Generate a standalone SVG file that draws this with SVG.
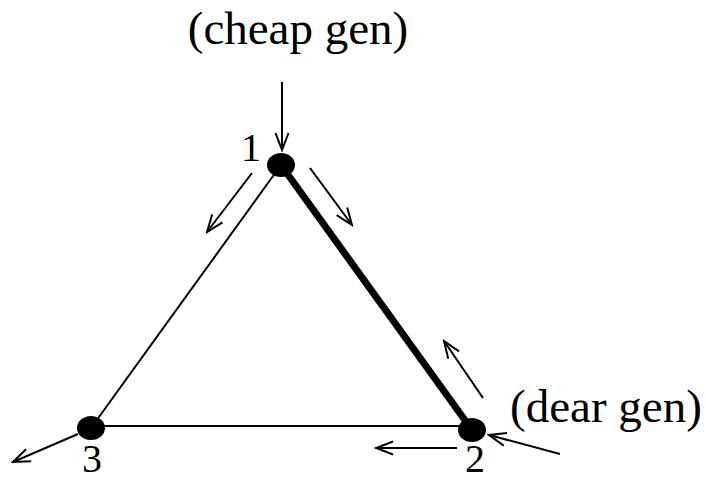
<svg xmlns="http://www.w3.org/2000/svg" width="706" height="481" viewBox="0 0 706 481">
<style>
.t{font-family:"Liberation Serif","Times New Roman",serif;fill:#000}
.lbl{font-size:47px}
.num{font-size:40px;text-anchor:middle}
.edge{stroke:#000;stroke-width:2;fill:none}
.thick{stroke:#000;stroke-width:7;fill:none}
.arr{stroke:#000;stroke-width:2;fill:none;marker-end:url(#ah)}
.node{fill:#000}
</style>
<defs>
<marker id="ah" viewBox="-19 -8 21 16" markerWidth="21" markerHeight="16" refX="0" refY="0" orient="auto" markerUnits="userSpaceOnUse">
<path d="M-17,-6.5 L0,0 L-17,6.5" stroke="#000" stroke-width="2" fill="none"/>
</marker>
</defs>
<g id="connectors">
<line class="edge" x1="281" y1="165" x2="91" y2="428"/>
<line class="thick" x1="281" y1="165" x2="472" y2="430"/>
<line class="edge" x1="91" y1="426" x2="472" y2="426"/>
<line class="arr" x1="282" y1="82" x2="282" y2="150"/>
<line class="arr" x1="252" y1="173" x2="207" y2="232"/>
<line class="arr" x1="310" y1="168" x2="352" y2="225"/>
<line class="arr" x1="483" y1="398" x2="444" y2="341"/>
<line class="arr" x1="560" y1="454" x2="489" y2="435"/>
<line class="arr" x1="457" y1="448" x2="376" y2="448"/>
<line class="arr" x1="78" y1="434" x2="13" y2="462"/>
</g>
<g id="node1">
<ellipse class="node" cx="281" cy="165" rx="14" ry="12"/>
<text class="t num" x="251" y="161">1</text>
</g>
<g id="node2">
<ellipse class="node" cx="472" cy="430" rx="14" ry="12"/>
<text class="t num" x="475" y="472">2</text>
</g>
<g id="node3">
<ellipse class="node" cx="91" cy="428" rx="14" ry="12"/>
<text class="t num" x="92" y="472">3</text>
</g>
<g id="label-cheap">
<text class="t lbl" x="298" y="44" text-anchor="middle">(cheap gen)</text>
</g>
<g id="label-dear">
<text class="t lbl" x="606" y="422" text-anchor="middle">(dear gen)</text>
</g>
</svg>
